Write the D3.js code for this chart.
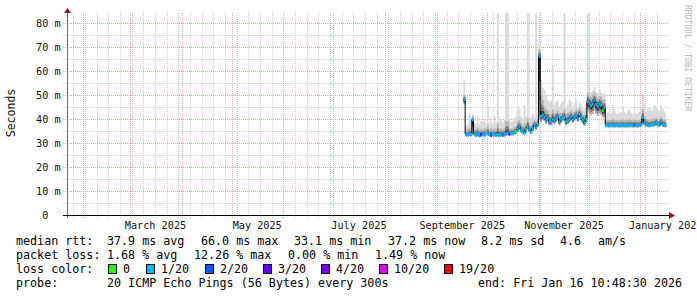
<!DOCTYPE html>
<html><head><meta charset="utf-8">
<script src="https://cdn.jsdelivr.net/npm/d3@7"></script>
<style>
html,body{margin:0;padding:0;background:#fff;}
svg{display:block;}
text{font-family:"DejaVu Sans Mono",monospace;white-space:pre;}
</style></head><body>
<svg id="c" width="697" height="297"></svg>
<script>
// ---------------- data ----------------
const firstSample = new Date(2025, 8, 17);           // one sample per day
const rangeStart = new Date(2025, 0, 22, 5, 30, 0);
const rangeEnd = new Date(2026, 0, 16, 10, 48, 30);

const medianMs = [48.0,33.6,33.4,33.8,33.5,39.5,33.8,33.3,33.6,33.1,
 33.4,33.7,33.3,33.9,34.2,33.5,33.2,33.6,33.4,33.3,
 33.5,33.2,33.6,33.3,33.4,33.8,34.2,33.7,34.0,33.9,
 34.3,34.6,35.5,36.7,35.3,34.5,34.2,35.5,36.7,35.5,
 34.6,36.0,37.4,36.5,37.7,66.0,41.0,41.6,40.6,39.5,
 40.2,38.8,38.8,39.8,39.2,40.2,40.9,38.8,39.8,40.6,
 40.5,38.8,39.2,40.0,40.9,39.8,40.6,41.3,40.2,41.8,
 40.5,39.5,38.5,39.8,47.1,46.4,45.5,46.2,47.5,46.0,
 45.2,46.2,45.7,43.5,44.5,37.4,37.3,37.2,37.4,37.3,
 37.2,37.4,37.3,37.2,37.3,37.4,37.2,37.3,37.2,37.4,
 37.3,37.2,37.5,37.3,37.2,37.4,37.6,40.5,38.5,37.6,
 37.4,37.3,37.5,37.6,37.8,38.4,37.6,37.5,38.7,37.6,
 37.4,37.2];

const lossPings = [1,1,1,1,1,1,1,1,1,1,
 3,1,1,1,1,1,2,1,1,1,
 1,1,1,2,1,1,1,3,1,1,
 1,0,1,1,1,1,1,1,1,1,
 1,1,1,1,1,1,1,1,1,1,
 1,1,1,1,1,1,1,1,1,1,
 1,1,1,1,1,1,1,1,1,1,
 1,1,1,1,1,1,1,1,1,1,
 1,1,1,0,1,1,1,1,1,1,
 1,1,1,1,1,1,1,1,1,1,
 1,1,2,1,1,1,1,1,1,1,
 1,1,1,1,1,1,1,1,1,1,
 1,1];

const lowMs = [46,32.7,32.5,32.9,32.6,33.5,32.9,32.4,32.7,32.2,
 32.5,32.8,32.4,33.0,33.3,32.6,32.3,32.7,32.5,32.4,
 32.6,32.3,32.7,32.4,32.5,32.9,33.3,32.8,33.1,33.0,
 33.4,33.7,34.4,35.4,34.2,33.6,33.3,34.4,35.6,34.4,
 33.7,34.9,36.3,35.4,36.6,40.0,38.5,39.5,39.0,38.0,
 38.7,37.3,37.3,38.3,37.7,38.7,39.4,37.3,38.3,39.1,
 39.0,37.3,37.7,38.5,39.4,38.3,39.1,39.8,38.7,40.3,
 39.0,38.0,37.0,38.3,43.1,42.4,41.5,42.2,43.5,42.0,
 41.2,42.2,41.7,40.5,41.0,36.5,36.4,36.3,36.5,36.4,
 36.3,36.5,36.4,36.3,36.4,36.5,36.3,36.4,36.3,36.5,
 36.4,36.3,36.6,36.4,36.3,36.5,36.7,38.0,37.2,36.7,
 36.5,36.4,36.6,36.7,36.9,37.2,36.7,36.6,37.5,36.7,
 36.5,36.3];

const upperMs = [50,35.5,35.5,36.5,35.5,41,35.8,35.5,36.5,35.3,
 35.8,35.5,36,35.5,37,35.5,36,35.5,36,35.5,
 38,35.5,36,35.5,36,39,39,36,36,36,
 36.5,37,39,39.5,38,37,38,38,40,38,
 37,38.5,39.5,39,40,69,50,48,45,44,
 43.5,42,42,44,42,43,43.5,42,42.5,43,
 44,42,42.5,43,43.5,42.5,43,44,43,44.5,
 43,42,41.5,43,51,50,49,50,51,49.5,
 48.5,49.5,49,48,48,39.5,39.5,39.6,39.5,40,
 39.6,39.5,39.4,39.6,39.5,39.8,39.5,39.4,39.6,39.8,
 39.5,39.4,39.7,39.5,39.4,39.6,40,44,41,40,
 39.8,39.7,39.9,40,40.2,40.6,39.9,39.8,40.8,39.9,
 39.7,39.5];

const highMs = [56,37,38,42,38,42,38.5,38,41,38,
 39,38.5,40,38,45,38.5,40.3,38,41,38.5,
 86,39,40,38.5,39.5,86,86,40,38.5,39,
 40,41,45,44,41,40,45.7,41,86,41,
 40.5,42,41,86,42,72,56,53,52,50,
 47.8,47,47.8,62.3,46,47,47.8,45,46,47,
 86,45,46,48,47,45,46.5,48,45,47,
 46,44,44.5,45,86,53,51,52,53.3,51,
 50.6,52,51,50,50.6,42,42.5,43,42,45.7,
 44,42.5,42,43,42.5,45,43,42,43.5,44,
 42.5,42,43,42,42.5,43,44,50.6,46,43,
 44,45,43.5,44,45.7,45,44,43.5,45.7,44,
 43,42.5];

const yTickValues = [0,10,20,30,40,50,60,70,80];
const yTickLabels = [" 0","10 m","20 m","30 m","40 m","50 m","60 m","70 m","80 m"];
const yMinorValues = [5,15,25,35,45,55,65,75];
const monthLabelDates = [new Date(2025,2,16),new Date(2025,4,16),new Date(2025,6,16),new Date(2025,8,16),new Date(2025,10,16),new Date(2026,0,16)];
const monthLabels = ["March 2025","May 2025","July 2025","September 2025","November 2025","January 2026"];

const lossClasses = [0,1,2,3,4,10,19];
const lossLabels = ["0","1/20","2/20","3/20","4/20","10/20","19/20"];
const lossColors = ["#26ff00","#00b8ff","#0059ff","#5e00ff","#7e00ff","#dd00ff","#ff0000"];

const legendMedian = ["median rtt:","37.9 ms avg","66.0 ms max","33.1 ms min","37.2 ms now","8.2 ms sd","4.6","am/s"];
const legendLoss = ["packet loss:","1.68 % avg","12.26 % max","0.00 % min","1.49 % now"];
const legendProbe = ["probe:","20 ICMP Echo Pings (56 Bytes) every 300s","end: Fri Jan 16 10:48:30 2026"];
const yAxisTitle = "Seconds";
const watermark = "RRDTOOL / TOBI OETIKER";

// ---------------- drawing ----------------
const svg = d3.select("#c");
const x = d3.scaleTime().domain([rangeStart, rangeEnd]).range([67, 666]);
const y = d3.scaleLinear().domain([0, 84]).range([215, 13]).clamp(true);

const samples = medianMs.map((m, i) => ({
  t0: d3.timeDay.offset(firstSample, i),
  t1: d3.timeDay.offset(firstSample, i + 1),
  m, lo: lowMs[i], up: upperMs[i], hi: highMs[i], loss: lossPings[i]
}));
samples[samples.length - 1].t1 = rangeEnd;

const px = v => Math.round(v) + 0.5;
const grid = svg.append("g");
// minor grid
d3.timeSunday.range(rangeStart, rangeEnd).forEach(d => {
  grid.append("line").attr("x1", px(x(d))).attr("x2", px(x(d))).attr("y1", 13).attr("y2", 218)
    .attr("stroke", "#cfcfcf").attr("stroke-dasharray", "1,1");
});
yMinorValues.forEach(v => {
  grid.append("line").attr("x1", 63).attr("x2", 668).attr("y1", px(y(v))).attr("y2", px(y(v)))
    .attr("stroke", "#cfcfcf").attr("stroke-dasharray", "1,1");
});
// major grid
d3.timeMonth.range(rangeStart, rangeEnd).forEach(d => {
  grid.append("line").attr("x1", px(x(d))).attr("x2", px(x(d))).attr("y1", 13).attr("y2", 218)
    .attr("stroke", "#eaa0a0").attr("stroke-dasharray", "1,1");
});
yTickValues.filter(v => v > 0).forEach(v => {
  grid.append("line").attr("x1", 63).attr("x2", 668).attr("y1", px(y(v))).attr("y2", px(y(v)))
    .attr("stroke", "#eaa0a0").attr("stroke-dasharray", "1,1");
});

// smoke
const smoke = svg.append("g");
const layers = [
  {a: d => d.lo, b: d => d.hi, fill: "#d9d9d9"},
  {a: d => d.lo, b: d => d.up, fill: "#b3b3b3"},
  {a: d => d.m - (d.m - d.lo) * 0.7, b: d => d.m + (d.up - d.m) * 0.55, fill: "#7a7a7a"},
  {a: d => d.m - (d.m - d.lo) * 0.4, b: d => d.m + (d.up - d.m) * 0.25, fill: "#333333"}
];
layers.forEach(L => {
  smoke.selectAll(null).data(samples).enter().append("rect")
    .attr("x", d => x(d.t0)).attr("width", d => x(d.t1) - x(d.t0) + 0.2)
    .attr("y", d => y(L.b(d))).attr("height", d => Math.max(0, y(L.a(d)) - y(L.b(d))))
    .attr("fill", L.fill);
});

// median: black step line then loss-coloured segments
const stepPts = samples.map(d => [x(d.t0), y(d.m)]);
stepPts.push([x(samples[samples.length - 1].t1), y(samples[samples.length - 1].m)]);
svg.append("path").attr("d", d3.line().curve(d3.curveStepAfter)(stepPts))
  .attr("fill", "none").attr("stroke", "#000").attr("stroke-width", 1);
const lossColor = n => { let c = lossColors[0]; lossClasses.forEach((k, j) => { if (n >= k) c = lossColors[j]; }); return c; };
svg.append("g").selectAll("rect").data(samples).enter().append("rect")
  .attr("x", d => x(d.t0)).attr("width", d => x(d.t1) - x(d.t0) + 0.2)
  .attr("y", d => y(d.m) - 1.5).attr("height", 3)
  .attr("fill", d => lossColor(d.loss));

// axes lines + arrows
svg.append("line").attr("x1", 67.5).attr("x2", 67.5).attr("y1", 12).attr("y2", 218).attr("stroke", "#6e6e6e");
svg.append("line").attr("x1", 63).attr("x2", 670).attr("y1", 215.5).attr("y2", 215.5).attr("stroke", "#000");
svg.append("path").attr("d", "M64,13 L71,13 L67.5,8 Z").attr("fill", "#8b1c1c");
svg.append("path").attr("d", "M669,212 L669,219 L675,215.5 Z").attr("fill", "#8b1c1c");

// y axis labels
const yAx = svg.append("g").attr("transform", "translate(67,0)")
  .call(d3.axisLeft(y).tickValues(yTickValues).tickFormat((d, i) => yTickLabels[i]).tickSize(0));
yAx.select(".domain").remove();
yAx.selectAll("text").attr("x", -31).attr("text-anchor", "start").attr("xml:space", "preserve")
  .attr("font-family", "DejaVu Sans Mono").attr("font-size", "10.2px").attr("fill", "#111").attr("dy", "0.36em");

// x axis labels
const xAx = svg.append("g").attr("transform", "translate(0,215)")
  .call(d3.axisBottom(x).tickValues(monthLabelDates).tickFormat((d, i) => monthLabels[i]).tickSize(0));
xAx.select(".domain").remove();
xAx.selectAll("text").attr("y", 13.5).attr("dy", 0)
  .attr("font-family", "DejaVu Sans Mono").attr("font-size", "10.2px").attr("fill", "#111");

// y title
svg.append("text").attr("transform", "translate(14.5,113) rotate(-90)").attr("text-anchor", "middle")
  .attr("font-size", "11.5px").attr("fill", "#111").text(yAxisTitle);

// watermark
svg.append("text").attr("transform", "translate(685,5) rotate(90)").attr("font-size", "8px")
  .attr("fill", "#b5b5b5").text(watermark);

// legend
const legend = svg.append("g").attr("font-size", "11.7px").attr("fill", "#000");
const putRow = (items, xs, yb) => items.forEach((t, i) =>
  legend.append("text").attr("x", xs[i]).attr("y", yb).text(t));
putRow(legendMedian, [16, 107, 201, 294, 388, 481, 560, 598], 245);
putRow(legendLoss, [16, 107, 194, 288, 375], 259);
legend.append("text").attr("x", 16).attr("y", 273).text("loss color:");
const boxX = [108, 146, 205, 263, 321, 379, 444];
lossLabels.forEach((lab, j) => {
  legend.append("rect").attr("x", boxX[j] + 0.5).attr("y", 264.5).attr("width", 8).attr("height", 9)
    .attr("fill", lossColors[j]).attr("stroke", "#000");
  legend.append("text").attr("x", boxX[j] + 15).attr("y", 273).text(lab);
});
putRow(legendProbe, [16, 107, 478], 287);
</script>
</body></html>
